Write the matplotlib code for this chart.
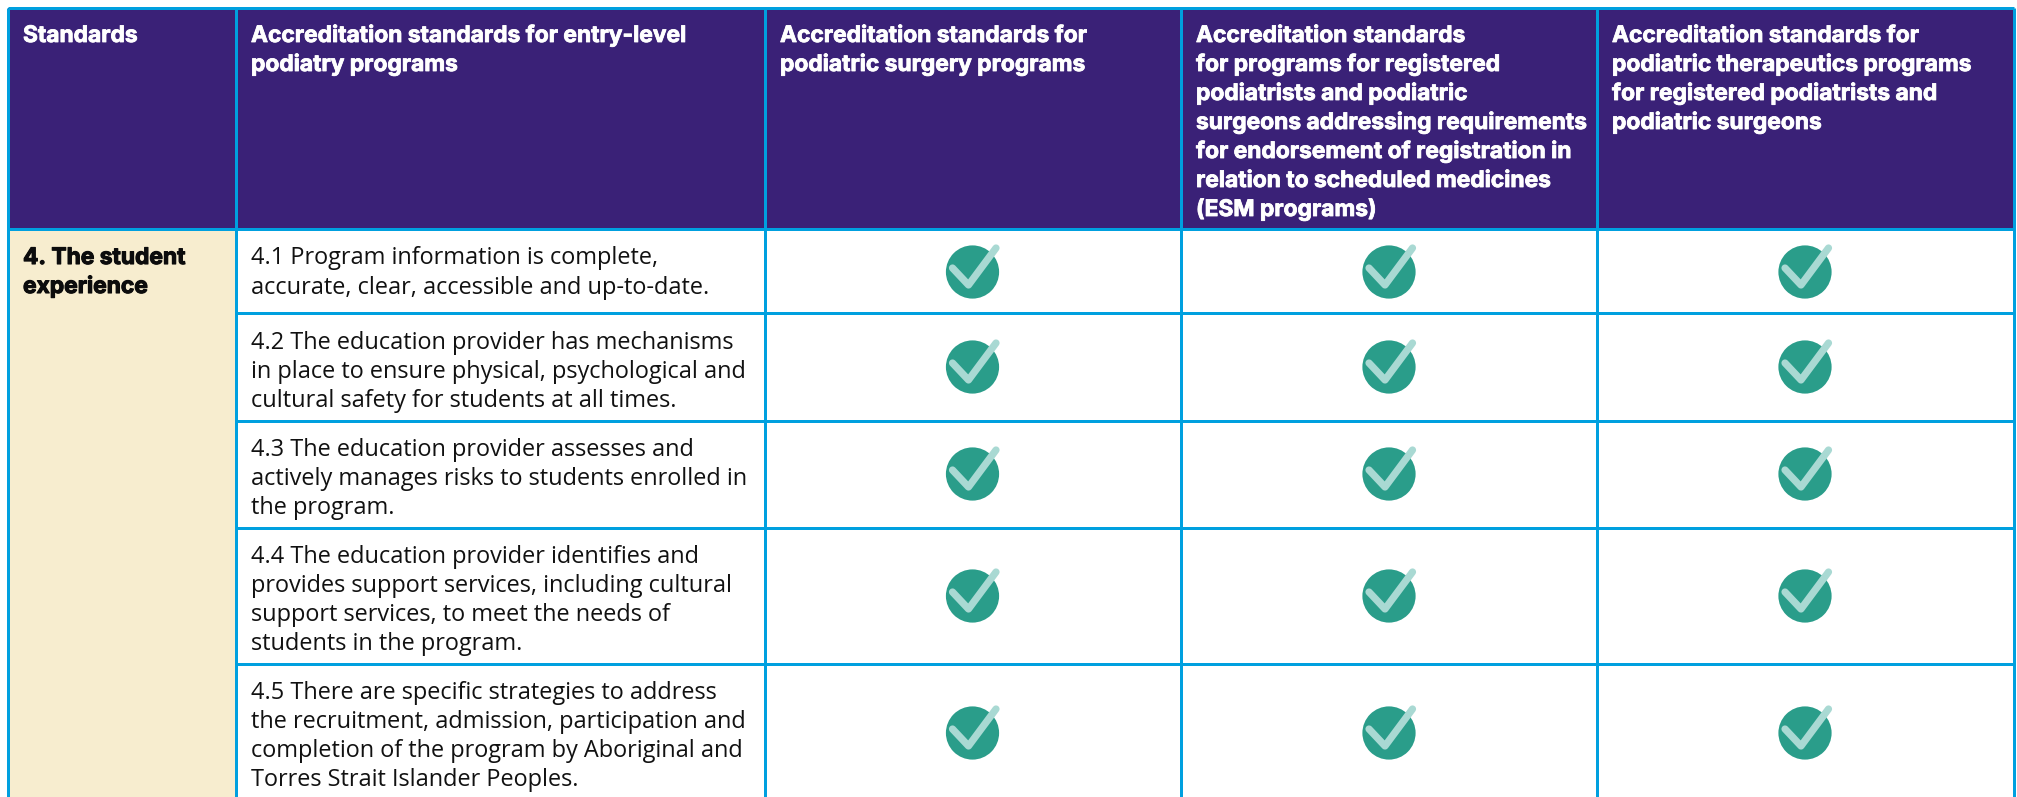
import matplotlib
matplotlib.use("Agg")
import matplotlib.pyplot as plt
import matplotlib.patheffects as pe
from matplotlib.patches import Rectangle, Circle

W, H = 2017, 797
col_edges = [8, 235.5, 765, 1181, 1597, 2014]
row_edges = [8, 229, 313, 420.5, 527.5, 663.5, 800]
header_x = [23, 251, 780, 1196, 1612]
headers = [
    ["Standards"],
    ["Accreditation standards for entry-level", "podiatry programs"],
    ["Accreditation standards for", "podiatric surgery programs"],
    ["Accreditation standards", "for programs for registered", "podiatrists and podiatric",
     "surgeons addressing requirements", "for endorsement of registration in",
     "relation to scheduled medicines", "(ESM programs)"],
    ["Accreditation standards for", "podiatric therapeutics programs",
     "for registered podiatrists and", "podiatric surgeons"],
]
group_label = ["4. The student", "experience"]
rows = [
    ["4.1 Program information is complete,", "accurate, clear, accessible and up-to-date."],
    ["4.2 The education provider has mechanisms", "in place to ensure physical, psychological and",
     "cultural safety for students at all times."],
    ["4.3 The education provider assesses and", "actively manages risks to students enrolled in",
     "the program."],
    ["4.4 The education provider identifies and", "provides support services, including cultural",
     "support services, to meet the needs of", "students in the program."],
    ["4.5 There are specific strategies to address", "the recruitment, admission, participation and",
     "completion of the program by Aboriginal and", "Torres Strait Islander Peoples."],
]
check_y = [272, 367, 474, 596, 733]
check_x = [972.5, 1389, 1805]

PURPLE, BLUE, BEIGE = "#3a2177", "#00a0df", "#f7edcf"
TEAL, MINT = "#2a9d8a", "#a9d9d3"
LH = 29

fig = plt.figure(figsize=(W / 100, H / 100), dpi=100, facecolor="white")
ax = fig.add_axes([0, 0, 1, 1])
ax.set_xlim(0, W)
ax.set_ylim(H, 0)
ax.axis("off")

ax.add_patch(Rectangle((col_edges[0], row_edges[0]), col_edges[-1] - col_edges[0],
                       row_edges[1] - row_edges[0], fc=PURPLE, ec="none", zorder=1))
ax.add_patch(Rectangle((col_edges[0], row_edges[1]), col_edges[1] - col_edges[0],
                       H - row_edges[1], fc=BEIGE, ec="none", zorder=1))

lw = 3 * 72 / 100
for x in col_edges:
    ax.plot([x, x], [row_edges[0], H], color=BLUE, lw=lw, zorder=2, solid_capstyle="butt")
for i, y in enumerate(row_edges[:-1]):
    x0 = col_edges[0] if i < 2 else col_edges[1]
    ax.plot([x0, col_edges[-1]], [y, y], color=BLUE, lw=lw, zorder=2, solid_capstyle="butt")

HEAD = dict(family="Inter", weight="bold", fontsize=16.4, va="baseline", zorder=3)
BODY = dict(family="Open Sans", weight="normal", color="#111111", fontsize=16.9, va="baseline", zorder=3)
for x, lines in zip(header_x, headers):
    for k, line in enumerate(lines):
        ax.text(x, 42 + k * LH, line, color="white",
                path_effects=[pe.withStroke(linewidth=0.6, foreground="white")], **HEAD)
for k, line in enumerate(group_label):
    ax.text(23, 264 + k * LH, line, color="#0c0c0c",
            path_effects=[pe.withStroke(linewidth=0.8, foreground="#0c0c0c")], **HEAD)
for top, lines in zip(row_edges[1:], rows):
    for k, line in enumerate(lines):
        ax.text(251, top + 35.5 + k * LH, line, **BODY)

for cy in check_y:
    for cx in check_x:
        ax.add_patch(Circle((cx, cy), 26.6, fc=TEAL, ec="none", zorder=3))
        ax.plot([cx - 20, cx - 4, cx + 23.5], [cy - 4, cy + 13, cy - 24], color=MINT, lw=5.2,
                solid_capstyle="round", solid_joinstyle="round", zorder=4)

fig.savefig("out.png", dpi=100, facecolor="white")
